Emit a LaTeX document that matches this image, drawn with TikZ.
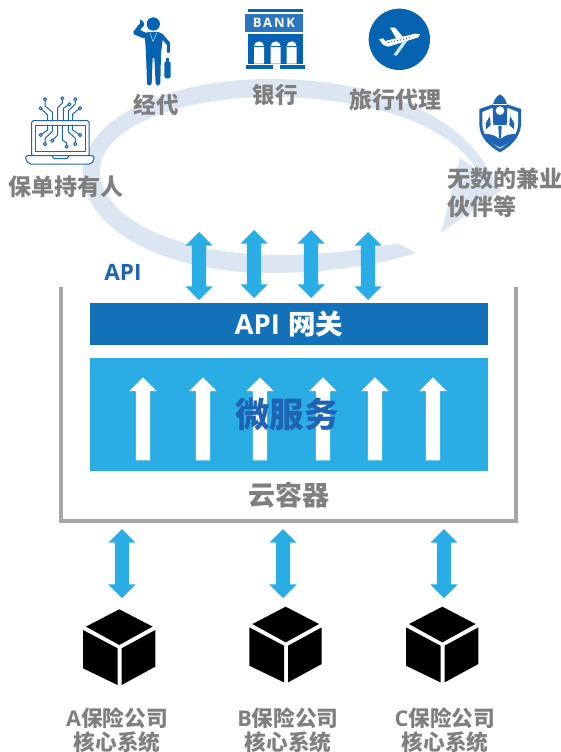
\documentclass[tikz,border=0pt]{standalone}
\usepackage{fontspec}
\usetikzlibrary{shapes.arrows}
\newfontfamily\cjkfont{Noto Sans CJK SC}
\newfontfamily\latfont{Open Sans}
\newfontfamily\bankfont[LetterSpace=14]{Open Sans}
\definecolor{ringblue}{HTML}{DCE6F2}
\definecolor{skyblue}{HTML}{2AADE5}
\definecolor{gatewayblue}{HTML}{1371B9}
\definecolor{iconblue}{HTML}{0563B1}
\definecolor{bankblue}{HTML}{2A75BE}
\definecolor{deepblue}{HTML}{1F63B5}
\definecolor{labelgray}{HTML}{7F7F7F}
\definecolor{framegray}{HTML}{A6A6A6}
\tikzset{
  px/.style={x=1pt,y=-1pt},
  lbl/.style={font=\cjkfont\bfseries\fontsize{#1}{#1}\selectfont,text=labelgray,inner sep=0pt},
  lbl/.default=22,
  dblarrow/.style={double arrow,fill=skyblue,draw=none,rotate=90,inner xsep=0pt,inner ysep=7pt,
    double arrow head extend=6.5pt,double arrow tip angle=90},
  upwhite/.style={single arrow,fill=white,draw=none,rotate=90,inner xsep=0pt,inner ysep=7pt,minimum height=83pt,
    single arrow head extend=6.5pt},
  circuit/.style={draw=deepblue,line width=1pt,line join=round,line cap=round},
  pad/.style={circuit,fill=white},
  zoomed/.style={x=0.3333pt,y=-0.3333pt},
  pics/cube/.style={code={
    \fill[black] (0,0) -- (33.3,17.3) -- (0,35.7) -- (-33.3,17.3) -- cycle;
    \fill[black] (-36.3,20.7) -- (-1.7,39) -- (-1.7,75.7) -- (-36.3,59) -- cycle;
    \fill[black] (2.3,39) -- (36,20.7) -- (36,57.3) -- (2.3,75.7) -- cycle;
  }}
}
\begin{document}
\begin{tikzpicture}[px]
\useasboundingbox (0,0) rectangle (561,752);
% ring
\fill[ringblue] (416,253) .. controls (370,267) and (320,273) .. (270,273)
  .. controls (165,273) and (83,230) .. (83,172)
  .. controls (83,120) and (165,79) .. (270,79)
  .. controls (370,79) and (465,110) .. (497,186)
  -- (502,190) -- (441,233) -- (460,158) -- (477,170)
  .. controls (450,125) and (370,97) .. (270,97)
  .. controls (175,97) and (100,130) .. (100,170)
  .. controls (100,220) and (180,255) .. (280,255)
  .. controls (320,255) and (365,250) .. (398,243) -- cycle;
% laptop
\draw[circuit,rounded corners=1.5pt,fill=white] (31.7,120.7) rectangle (89,156);
\draw[circuit] (35.7,125) rectangle (85,151.7);
\draw[circuit,rounded corners=2pt,fill=white] (25.7,155.7) -- (94,155.7) -- (94,160) -- (91,164) -- (29,164) -- (25.7,160) -- cycle;
\draw[circuit] (52,155.7) -- (54,158.5) -- (67,158.5) -- (69,155.7);
\draw[circuit] (45,99.3) -- (45,106) -- (52.3,112) -- (52.3,120);
\draw[circuit] (40.7,108.3) -- (47.7,115) -- (47.7,120);
\draw[circuit] (62.3,98.3) -- (62.3,103) -- (57.7,108) -- (57.7,120);
\draw[circuit] (69.3,104.3) -- (63.3,108.3) -- (63.3,120);
\draw[circuit] (75.3,99.3) -- (75.3,104) -- (68.3,110.7) -- (68.3,120);
\draw[circuit] (80,108.3) -- (72.7,114) -- (72.7,120);
\draw[circuit] (47.7,125) -- (47.7,130) -- (40.7,135);
\draw[circuit] (52.3,125) -- (52.3,131.7) -- (45,138.3) -- (45,144);
\draw[circuit] (57.7,125) -- (57.7,135) -- (52.3,140.7);
\draw[circuit] (62.3,125) -- (62.3,140) -- (66.7,143) -- (66.7,146.7);
\draw[circuit] (68.3,125) -- (68.3,131.7) -- (75.3,138.3) -- (75.3,144);
\draw[circuit] (72.7,125) -- (72.7,130) -- (80,135);
\foreach \p in {(45,99.3),(40.7,108.3),(62.3,98.3),(69.3,104.3),(75.3,99.3),(80,108.3),(40.7,135),(45,144),(52.3,140.7),(66.7,146.7),(75.3,144),(80,135)}
  \draw[pad] \p circle (1.6);
% businessman
\begin{scope}[xshift=125pt,yshift=-10pt,zoomed]
  \fill[iconblue] (85,42) circle (20);
  \fill[iconblue,line join=round] (45,28) -- (55,35) -- (58,45) -- (45,60) -- (62,68) -- (75,66) -- (100,66) -- (113,72)
    -- (135,98) -- (135,128) -- (126,128) -- (126,105) -- (113,90) -- (108,130) -- (106,220) -- (100,227) -- (92,222)
    -- (88,145) -- (83,145) -- (80,222) -- (73,227) -- (66,222) -- (63,130) -- (60,85) -- (50,83) -- (27,73) -- (25,65) -- (45,40) -- cycle;
  \draw[white,line width=.35pt] (75,67) -- (84,95) -- (96,67);
  \fill[iconblue,rounded corners=1.5pt] (118,155) rectangle (137,205);
  \fill[iconblue] (123,145) rectangle (132,156);
\end{scope}
% bank
\begin{scope}[xshift=240pt,yshift=-5pt,zoomed]
  \fill[iconblue] (24,12) rectangle (188,22);
  \fill[bankblue] (15,28) rectangle (190,80);
  \fill[iconblue] (24,88) rectangle (188,176);
  \foreach \cx in {57,107,155}{
    \fill[white] (\cx-15,176) -- (\cx-15,124) arc[start angle=180,end angle=360,radius=15] -- (\cx+15,176) -- cycle;
    \fill[iconblue] (\cx-15,122) rectangle (\cx+15,125);
  }
  \fill[iconblue] (18,180) rectangle (100,192);
  \fill[iconblue] (120,180) rectangle (195,192);
\end{scope}
\node[inner sep=0pt,text=white,font=\bankfont\bfseries\fontsize{13}{13}\selectfont] (banktext) at (274,23) {BANK};
% plane
\begin{scope}[xshift=365pt,yshift=-5pt,zoomed]
  \fill[iconblue] (103,103) circle (92);
  \fill[white!75!skyblue] (112,112) -- (127,108) -- (95,152) -- (85,150) -- cycle;
  \fill[white] (75,68) -- (90,68) -- (115,97) -- (95,103) -- cycle;
  \fill[white,line join=round] (42,103) -- (55,100) -- (60,108) -- (150,86) -- (165,88) -- (160,97) -- (70,125) -- (55,120) -- cycle;
  \draw[iconblue,line width=1pt,dash pattern=on 1pt off 2pt] (70,113) -- (135,98);
\end{scope}
% rocket shield
\begin{scope}[xshift=470pt,yshift=-90pt,zoomed]
  \fill[deepblue] (28,57) -- (28,105) .. controls (30,145) and (60,170) .. (90,187) .. controls (120,170) and (150,145) .. (153,105) -- (153,57) -- (108,42) -- (72,42) -- cycle;
  \fill[white] (37,66) -- (37,105) .. controls (39,140) and (65,160) .. (90,176) .. controls (115,160) and (141,140) .. (144,105) -- (144,66) -- (108,52) -- (72,52) -- cycle;
  \fill[deepblue] (43,133) .. controls (55,130) and (75,135) .. (85,145) -- (95,145) .. controls (105,135) and (125,130) .. (138,133) .. controls (128,150) and (110,165) .. (90,172) .. controls (70,165) and (52,150) .. (43,133) -- cycle;
  \fill[deepblue] (90,13) .. controls (103,20) and (112,35) .. (112,55) -- (110,105) -- (70,105) -- (68,55) .. controls (68,35) and (77,20) .. (90,13) -- cycle;
  \fill[deepblue] (85,108) -- (95,108) -- (93,145) -- (87,145) -- cycle;
  \fill[deepblue] (60,78) -- (62,105) -- (48,118) -- (47,100) -- cycle;
  \fill[deepblue] (120,78) -- (118,105) -- (132,118) -- (133,100) -- cycle;
  \fill[white] (90,62) circle (13);
  \draw[white,line width=.5pt] (70,44) -- (110,44);
\end{scope}
% top labels
\node[lbl=22.5] (jingdai) at (156,105) {经代};
\node[lbl=22.5] (yinhang) at (275,95) {银行};
\node[lbl=23] (lvxing) at (395,100) {旅行代理};
\node[lbl=23] (baodan) at (66,187) {保单持有人};
\node[lbl=23,align=left,anchor=north west,font=\cjkfont\bfseries\fontsize{23}{28}\selectfont] (jianye) at (447,168) {无数的兼业\\伙伴等};
\node[inner sep=0pt,text=deepblue,font=\latfont\bfseries\fontsize{22.5}{22.5}\selectfont] (apilabel) at (123,272) {API};
% container
\draw[framegray,line width=4pt] (60.5,287) -- (60.5,521) -- (516,521) -- (516,287);
\node[draw=none,fill=gatewayblue,minimum width=398pt,minimum height=42pt,inner sep=0pt,text=white,font=\fontsize{27.5}{27.5}\selectfont] (gateway) at (289,324) {{\latfont\bfseries API} {\cjkfont\bfseries 网关}};
\node[fill=skyblue,minimum width=398pt,minimum height=113pt,inner sep=0pt] (micro) at (289,414.5) {};
\foreach \n/\x in {a/143,b/203,c/260,d/323,e/375,f/433}
  \node[upwhite] (up\n) at (\x,422.5) {};
\node[inner sep=0pt,text=deepblue,font=\cjkfont\bfseries\fontsize{34.5}{34.5}\selectfont] (microtext) at (287,414) {微服务};
\node[lbl=27] (yun) at (289,495) {云容器};
% arrows
\node[dblarrow,minimum height=68pt] (ta) at (199,266) {};
\node[dblarrow,minimum height=68pt] (tb) at (254,264) {};
\node[dblarrow,minimum height=68pt] (tc) at (311,264) {};
\node[dblarrow,minimum height=68pt] (td) at (368,266) {};
\node[dblarrow,minimum height=69pt] (ba) at (122,563.5) {};
\node[dblarrow,minimum height=69pt] (bb) at (283,563.5) {};
\node[dblarrow,minimum height=69pt] (bc) at (444,563.5) {};
% cubes
\pic at (119.3,609.3) {cube};
\pic at (285.7,606.7) {cube};
\pic at (442.3,606.7) {cube};
% bottom labels
\node[lbl=21.7] (la1) at (117,718) {{\latfont\bfseries A}保险公司};
\node[lbl=21.7] (la2) at (117,742) {核心系统};
\node[lbl=21.7] (lb1) at (288,718) {{\latfont\bfseries B}保险公司};
\node[lbl=21.7] (lb2) at (288,742) {核心系统};
\node[lbl=21.7] (lc1) at (445,718) {{\latfont\bfseries C}保险公司};
\node[lbl=21.7] (lc2) at (445,742) {核心系统};
\end{tikzpicture}
\end{document}
